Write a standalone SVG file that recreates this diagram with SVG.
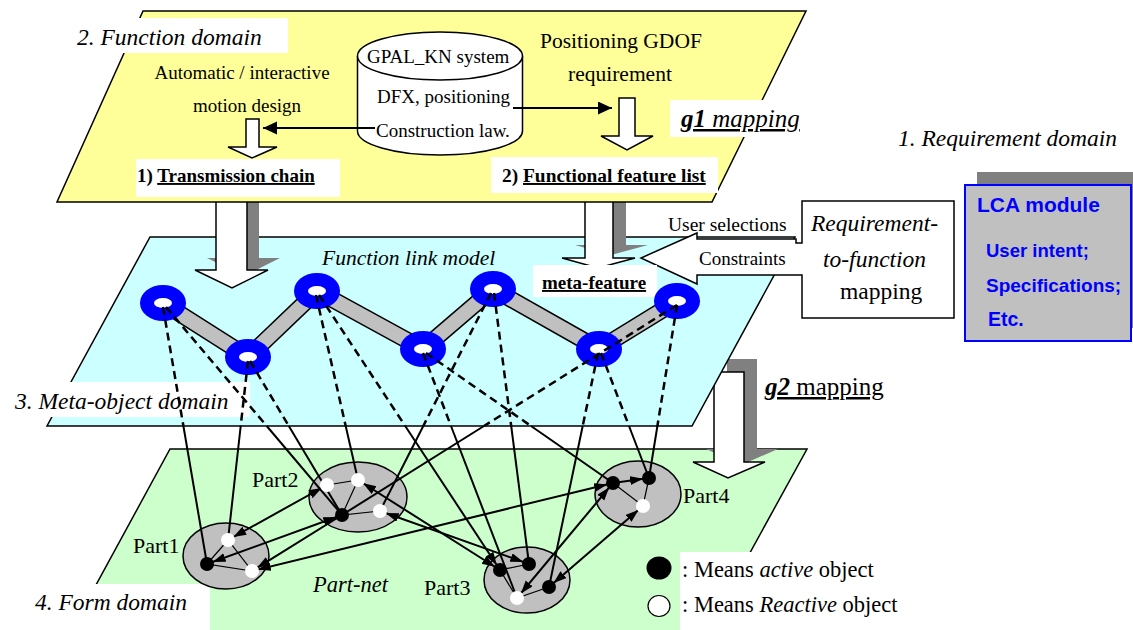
<svg xmlns="http://www.w3.org/2000/svg" width="1133" height="630" viewBox="0 0 1133 630">
<style>
.s{font-family:"Liberation Serif","Times New Roman",serif;fill:#000}
.i{font-style:italic}
.b{font-weight:bold}
.u{text-decoration:underline}
.plane{stroke:#000;stroke-width:1.5}
.wa{fill:#fff;stroke:#000;stroke-width:1.5}
.sh{fill:#808080}
.dash{stroke:#000;stroke-width:2.5;stroke-dasharray:8 5;fill:none}
.sol{stroke:#000;stroke-width:2;fill:none}
.thin{stroke:#000;stroke-width:1.2;fill:none}
.lca{font-family:"Liberation Sans",Arial,sans-serif;font-weight:bold;fill:#0000ff}
</style>
<defs>
<marker id="ah" markerUnits="userSpaceOnUse" markerWidth="30" markerHeight="12" refX="19" refY="4.5" orient="auto-start-reverse"><path d="M0,0 L13,4.5 L0,9 z" fill="#000"/></marker>
<marker id="ah0" markerUnits="userSpaceOnUse" markerWidth="16" markerHeight="14" refX="14" refY="6.5" orient="auto"><path d="M0,0 L14,6.5 L0,13 z" fill="#000"/></marker>
</defs>
<rect width="1133" height="630" fill="#fff"/>

<!-- Form domain plane -->
<g id="form-plane">
<polygon class="plane" fill="#ccffcc" points="170,449 807,449 702,640 66,640"/>
</g>
<!-- g2 arrow -->
<g id="g2-arrow">
<polygon class="sh" points="727,359 757,359 757,449 778,449 741,465 706,449 727,449"/>
<polygon class="wa" points="714,372 744,372 744,462 765,462 728,478 693,462 714,462"/>
</g>
<!-- Meta-object plane -->
<g id="meta-plane">
<polygon class="plane" fill="#ccffff" points="150,237 795,237 692,426 47,426"/>
</g>
<!-- big arrows yellow->cyan -->
<g id="g1-arrows">
<polygon class="sh" points="228,180 259,180 259,258 280,258 244,276 207,258 228,258"/>
<polygon class="wa" points="216,192 247,192 247,270 268,270 232,288 195,270 216,270"/>
<polygon class="sh" points="598,180 626,180 626,245 648,245 611,255 575,245 598,245"/>
<polygon class="wa" points="585,192 613,192 613,258 635,258 598,268 562,258 585,258"/>
</g>
<!-- Function plane -->
<g id="function-plane">
<polygon class="plane" fill="#ffff99" points="143,11 806,11 712,202 57,202"/>
<rect x="75" y="18" width="213" height="35" fill="#fff"/>
<text class="s i" x="77" y="45" font-size="23.5">2. Function domain</text>
<text class="s" x="242" y="79" font-size="19" text-anchor="middle">Automatic / interactive</text>
<text class="s" x="247" y="112" font-size="19" text-anchor="middle">motion design</text>
<polygon class="wa" points="246,119 259,119 259,147 277,147 252,158 228,147 246,147"/>
<rect x="136" y="159" width="204" height="38" fill="#fff"/>
<text class="s b" x="137" y="182" font-size="19">1) <tspan class="u">Transmission chain</tspan></text>
<text class="s" x="540" y="48" font-size="21.5">Positioning GDOF</text>
<text class="s" x="568" y="81" font-size="21.5">requirement</text>
<polygon class="wa" points="619,98 635,98 635,136 653,136 627,150 601,136 619,136"/>
<rect x="491" y="157" width="227" height="36" fill="#fff"/>
<text class="s b" x="502" y="182" font-size="19.4">2) <tspan class="u">Functional feature list</tspan></text>
<rect x="670" y="100" width="142" height="37" fill="#fff"/>
<text class="s i u" x="681" y="127" font-size="25"><tspan class="b">g1</tspan> mapping</text>
</g>
<!-- database cylinder -->
<g id="gpal-db">
<path class="wa" d="M357.5,56 L357.5,131 A82.5,24 0 0 0 522.5,131 L522.5,56"/>
<ellipse class="wa" cx="440" cy="56" rx="82.5" ry="24"/>
<text class="s" x="367" y="63" font-size="19">GPAL_KN system</text>
<text class="s" x="377" y="103" font-size="19">DFX, positioning</text>
<text class="s" x="376" y="137" font-size="19">Construction law.</text>
</g>
<g id="db-connectors">
<line class="sol" x1="375" y1="128" x2="263" y2="128" marker-end="url(#ah0)"/>
<line class="sol" x1="513" y1="108" x2="612" y2="108" marker-end="url(#ah0)"/>
</g>
<!-- requirement domain -->
<g id="requirement-domain">
<text class="s i" x="898" y="146" font-size="23.5">1. Requirement domain</text>
</g>
<g id="lca-module">
<rect class="sh" x="977" y="172" width="166" height="156"/>
<rect x="965" y="185" width="166" height="156" fill="#c0c0c0" stroke="#0000ff" stroke-width="2"/>
<text class="lca" x="977" y="212" font-size="21">LCA module</text>
<text class="lca" x="986" y="257" font-size="18.5">User intent;</text>
<text class="lca" x="986" y="292" font-size="19">Specifications;</text>
<text class="lca" x="988" y="326" font-size="19.5">Etc.</text>
</g>
<g id="req-to-func">
<path class="wa" d="M802,201 L954,201 L954,318 L802,318 L802,275 L697,275 L697,284 L641,258 L697,233 L697,239 L796,239 L796,243 L802,243 Z"/>
<text class="s" x="668" y="231" font-size="19.5">User selections</text>
<text class="s" x="699" y="265" font-size="19">Constraints</text>
<text class="s i" x="811" y="231" font-size="23.5">Requirement-</text>
<text class="s i" x="823" y="267" font-size="23.5">to-function</text>
<text class="s" x="840" y="299" font-size="23.5">mapping</text>
</g>
<g id="g2-label">
<text class="s u" x="765" y="395" font-size="25"><tspan class="b i">g2</tspan> mapping</text>
</g>
<!-- labels on meta plane -->
<g id="meta-labels">
<text class="s i" x="322" y="265" font-size="21.5">Function link model</text>
<rect x="533" y="265" width="124" height="32" fill="#fff"/>
<text class="s b u" x="542" y="289" font-size="19">meta-feature</text>
<rect x="0" y="382" width="250" height="35" fill="#fff"/>
<text class="s i" x="15" y="409" font-size="23.5">3. Meta-object domain</text>
</g>
<!-- function link model bands -->
<g id="links">
<polyline points="163,303 248,357 317,291 423,349 493,289 599,349 677,301" fill="none" stroke="#000" stroke-width="17" stroke-linejoin="round"/>
<polyline points="163,303 248,357 317,291 423,349 493,289 599,349 677,301" fill="none" stroke="#c0c0c0" stroke-width="14" stroke-linejoin="round"/>
</g>
<g id="N1"><ellipse cx="163" cy="303" rx="23" ry="18" fill="#0000ff"/><ellipse cx="163" cy="303" rx="9" ry="5" fill="#fff"/></g>
<g id="N2"><ellipse cx="248" cy="357" rx="23" ry="18" fill="#0000ff"/><ellipse cx="248" cy="357" rx="9" ry="5" fill="#fff"/></g>
<g id="N3"><ellipse cx="317" cy="291" rx="23" ry="18" fill="#0000ff"/><ellipse cx="317" cy="291" rx="9" ry="5" fill="#fff"/></g>
<g id="N4"><ellipse cx="423" cy="349" rx="23" ry="18" fill="#0000ff"/><ellipse cx="423" cy="349" rx="9" ry="5" fill="#fff"/></g>
<g id="N5"><ellipse cx="493" cy="289" rx="23" ry="18" fill="#0000ff"/><ellipse cx="493" cy="289" rx="9" ry="5" fill="#fff"/></g>
<g id="N6"><ellipse cx="599" cy="349" rx="23" ry="18" fill="#0000ff"/><ellipse cx="599" cy="349" rx="9" ry="5" fill="#fff"/></g>
<g id="N7"><ellipse cx="677" cy="301" rx="23" ry="18" fill="#0000ff"/><ellipse cx="677" cy="301" rx="9" ry="5" fill="#fff"/></g>

<!-- form domain labels -->
<g id="form-labels">
<rect x="0" y="584" width="210" height="46" fill="#fff"/>
<text class="s i" x="35" y="610" font-size="23.5">4. Form domain</text>
<text class="s i" x="313" y="592" font-size="22.5">Part-net</text>
</g>
<!-- parts -->
<g id="Part1"><ellipse cx="226" cy="556" rx="43" ry="33" fill="#c0c0c0" stroke="#000" stroke-width="1.5"/><text class="s" x="133" y="553" font-size="22">Part1</text>
<path class="thin" d="M207,564 L228,540 L252,571 Z"/></g>
<g id="Part2"><ellipse cx="358" cy="497" rx="49" ry="35" fill="#c0c0c0" stroke="#000" stroke-width="1.5"/><text class="s" x="252" y="487" font-size="22">Part2</text>
<path class="thin" d="M327,485 L358,480 L342,515 L380,511"/></g>
<g id="Part3"><ellipse cx="527" cy="580" rx="43" ry="33" fill="#c0c0c0" stroke="#000" stroke-width="1.5"/><text class="s" x="424" y="595" font-size="22">Part3</text>
<path class="thin" d="M529,564 L500,570 L517,598 L549,587"/></g>
<g id="Part4"><ellipse cx="638" cy="494" rx="43" ry="33" fill="#c0c0c0" stroke="#000" stroke-width="1.5"/><text class="s" x="683" y="503" font-size="22">Part4</text>
<path class="thin" d="M613,483 L643,506 L649,478"/></g>

<!-- connectors -->
<g id="connectors">
<path class="dash" d="M163,307 L183.4,426"/><path class="sol" d="M183.4,426 L207,564"/>
<path class="dash" d="M166,307 L266.7,426"/><path class="sol" d="M266.7,426 L342,515"/>
<path class="dash" d="M248,361 L240.7,426"/><path class="sol" d="M240.7,426 L228,540"/>
<path class="dash" d="M250,361 L288.8,426"/><path class="sol" d="M288.8,426 L342,515"/>
<path class="dash" d="M316,295 L345.7,426"/><path class="sol" d="M345.7,426 L358,480"/>
<path class="dash" d="M319,295 L405.2,426"/><path class="sol" d="M405.2,426 L500,570" marker-end="url(#ah)"/>
<path class="dash" d="M423,353 L451,426"/><path class="sol" d="M451,426 L517,598"/>
<path class="dash" d="M426,353 L531,426"/><path class="sol" d="M531,426 L613,483"/>
<path class="dash" d="M491,293 L423.3,426"/><path class="sol" d="M423.3,426 L380,511"/>
<path class="dash" d="M494,293 L511.2,426"/><path class="sol" d="M511.2,426 L529,564"/>
<path class="dash" d="M598,353 L582.7,426"/><path class="sol" d="M582.7,426 L549,587"/>
<path class="dash" d="M601,353 L629,426"/><path class="sol" d="M629,426 L649,478"/>
<path class="dash" d="M677,305 L484,426"/><path class="sol" d="M484,426 L342,515"/>
<path class="dash" d="M677,305 L657.4,426"/><path class="sol" d="M657.4,426 L649,478"/>

<path class="sol" d="M228,540 L327,485" marker-start="url(#ah)" marker-end="url(#ah)"/>
<path class="sol" d="M207,564 L342,515" marker-start="url(#ah)" marker-end="url(#ah)"/>
<path class="sol" d="M342,515 L252,571" marker-end="url(#ah)"/>
<path class="sol" d="M252,571 L613,483" marker-start="url(#ah)" marker-end="url(#ah)"/>
<path class="sol" d="M358,480 L500,570" marker-start="url(#ah)" marker-end="url(#ah)"/>
<path class="sol" d="M380,511 L529,564" marker-start="url(#ah)" marker-end="url(#ah)"/>
<path class="sol" d="M517,598 L613,483" marker-start="url(#ah)" marker-end="url(#ah)"/>
<path class="sol" d="M549,587 L643,506" marker-start="url(#ah)" marker-end="url(#ah)"/>
<path class="sol" d="M613,483 L649,478" marker-end="url(#ah)"/>
</g>

<!-- objects -->
<g id="objects">
<circle cx="207" cy="564" r="7" fill="#000"/>
<circle cx="228" cy="540" r="7" fill="#fff"/>
<circle cx="252" cy="571" r="7" fill="#fff"/>
<circle cx="327" cy="485" r="7" fill="#fff"/>
<circle cx="358" cy="480" r="7" fill="#fff"/>
<circle cx="342" cy="515" r="7" fill="#000"/>
<circle cx="380" cy="511" r="7" fill="#fff"/>
<circle cx="500" cy="570" r="7" fill="#000"/>
<circle cx="529" cy="564" r="7" fill="#000"/>
<circle cx="517" cy="598" r="7" fill="#fff"/>
<circle cx="549" cy="587" r="7" fill="#000"/>
<circle cx="613" cy="483" r="7" fill="#000"/>
<circle cx="649" cy="478" r="7" fill="#000"/>
<circle cx="643" cy="506" r="7" fill="#fff"/>
</g>

<!-- legend -->
<g id="legend">
<rect x="680" y="552" width="225" height="78" fill="#fff"/>
<ellipse cx="659" cy="568" rx="12.5" ry="11.5" fill="#000"/>
<ellipse cx="659" cy="606" rx="11" ry="10.5" fill="#fff" stroke="#000" stroke-width="1.2"/>
<text class="s" x="682" y="577" font-size="22.5">: Means <tspan class="i">active</tspan> object</text>
<text class="s" x="682" y="612" font-size="22.5">: Means <tspan class="i">Reactive</tspan> object</text>
</g>
</svg>
